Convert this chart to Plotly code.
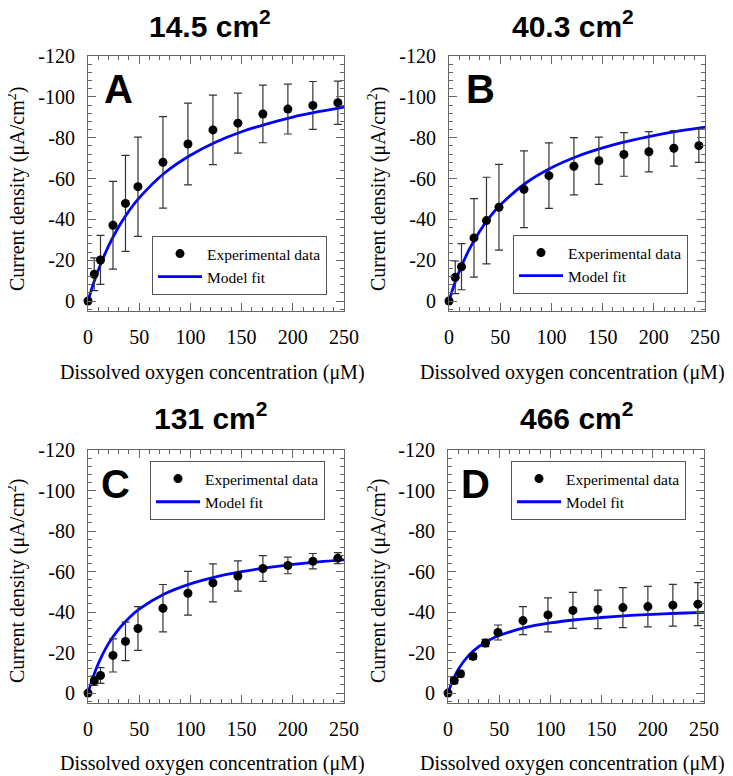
import plotly.graph_objects as go

# the page adds an 8px body margin, so reference pixel positions are
# shifted by OFF; the figure keeps the full size so bottom/right texts fit
W, H = 733, 776
OFF = 8

# Dissolved oxygen concentration (uM) of the measured points
conc = [0, 6.1, 12.2, 24.4, 36.6, 48.8, 73.2, 97.6, 122, 146.4, 170.8, 195.2, 219.6, 244]

# Experimental current density (uA/cm2) and error bar half-widths
exp_a = [0, -13.1, -20.1, -37.1, -47.8, -56.0, -67.9, -76.9, -83.8, -87.1, -91.6, -94.0, -95.8, -97.1]
err_a = [0, 8, 12, 21.5, 23.5, 24.3, 22.4, 20, 17, 14.7, 14.1, 12.2, 11.7, 10.6]
exp_b = [0, -11.6, -16.8, -30.9, -39.4, -45.9, -54.7, -61.4, -66.0, -68.7, -71.8, -73.1, -74.8, -76.1]
err_b = [0, 8, 11.3, 19.2, 21.2, 21, 18.8, 16, 14, 11.6, 10.7, 9.9, 8.7, 8.2]
exp_c = [0, -6.1, -8.7, -18.6, -25.5, -31.9, -41.9, -49.3, -54.4, -57.8, -61.5, -63.0, -65.1, -66.6]
err_c = [0, 2.3, 3.9, 8.2, 9.5, 10.8, 11.7, 10.8, 9.4, 7.5, 6.4, 4.1, 3.8, 2.7]
exp_d = [0, -6.2, -9.5, -18.1, -24.7, -29.9, -35.8, -38.6, -40.8, -41.3, -42.2, -42.7, -43.4, -43.9]
err_d = [0, 1.5, 1.5, 1.5, 1.8, 3.7, 6.9, 8.4, 8.9, 9.5, 9.9, 10, 10.3, 10.6]

# Model fit curves
fit_x = [0, 5, 10, 20, 30, 40, 50, 75, 100, 125, 150, 175, 200, 225, 250]
fit_a = [0, -8.1, -15.1, -26.9, -36.4, -44.1, -50.5, -62.8, -71.4, -77.9, -82.9, -86.8, -90.1, -92.7, -95.0]
fit_b = [0, -7.8, -14.5, -25.5, -34.2, -41.2, -47.0, -57.8, -65.3, -70.8, -75.0, -78.3, -81.0, -83.3, -85.2]
fit_c = [0, -8.0, -14.5, -24.4, -31.6, -37.1, -41.4, -49.0, -53.9, -57.4, -59.9, -61.9, -63.5, -64.8, -65.8]
fit_d = [0, -6.7, -11.7, -18.5, -22.9, -26.1, -28.4, -32.3, -34.6, -36.2, -37.3, -38.2, -38.9, -39.4, -39.8]

titles = ["14.5 cm<sup>2</sup>", "40.3 cm<sup>2</sup>", "131 cm<sup>2</sup>", "466 cm<sup>2</sup>"]
letters = ["A", "B", "C", "D"]
y_ticks = [0, -20, -40, -60, -80, -100, -120]
y_ticktext = ["0", "-20", "-40", "-60", "-80", "-100", "-120"]

exps = [exp_a, exp_b, exp_c, exp_d]
errs = [err_a, err_b, err_c, err_d]
fits = [fit_a, fit_b, fit_c, fit_d]

# reference pixel boxes of each panel: (left, right, top, bottom)
boxes = [(88, 344, 56, 311), (449, 705, 56, 311), (88, 344, 450, 703), (448, 704, 450, 703)]
legend_boxes = [(327, 295), (688, 294), (325, 520), (686, 520)]
title_pos = [(210, 24), (573, 24), (210, 416), (576, 416)]
letter_pos = [(118, 89), (480, 89), (115, 484), (476, 484)]
ytitle_pos = [(16, 189), (377, 189), (16, 581), (377, 581)]
xtitle_pos = [(212, 372), (572, 372), (212, 763), (572, 763)]


def px(x):
    return (x - OFF) / W


def py(y):
    return 1 - (y - OFF) / H


serif = "Liberation Serif"
sans = "Liberation Sans"

fig = go.Figure()

for i in range(4):
    n = "" if i == 0 else str(i + 1)
    xa, ya = "x" + n, "y" + n
    leg = "legend" + n

    fig.add_trace(go.Scatter(
        x=fit_x, y=fits[i], mode="lines", name="Model fit",
        line=dict(color="#0000FF", width=2.8, shape="spline"),
        xaxis=xa, yaxis=ya, legend=leg, legendrank=2,
    ))
    fig.add_trace(go.Scatter(
        x=conc, y=exps[i], mode="markers", name="Experimental data",
        marker=dict(color="black", size=9),
        error_y=dict(type="data", array=errs[i], color="#333333", thickness=1.2, width=4),
        xaxis=xa, yaxis=ya, legend=leg, legendrank=1, cliponaxis=False,
    ))

    l, r, t, b = boxes[i]
    axis_common = dict(
        showline=True, linecolor="#666666", linewidth=1, mirror="allticks",
        ticks="inside", ticklen=8, tickcolor="#666666", showgrid=False, zeroline=False,
        tickfont=dict(family=serif, size=20, color="black"), automargin=False,
    )
    fig.update_layout(**{
        "xaxis" + n: dict(
            domain=[px(l), px(r)], range=[0, 250], anchor=ya, dtick=50,
            minor=dict(dtick=10, ticks="inside", ticklen=4, tickcolor="#666666"),
            ticklabelstandoff=8, **axis_common),
        "yaxis" + n: dict(
            domain=[py(b), py(t)], range=[4.9, -120], anchor=xa,
            tickvals=y_ticks, ticktext=y_ticktext,
            minor=dict(dtick=4, ticks="inside", ticklen=4, tickcolor="#666666"),
            ticklabelstandoff=8, **axis_common),
        leg: dict(
            x=px(legend_boxes[i][0]), y=py(legend_boxes[i][1]),
            xanchor="right", yanchor="bottom",
            bgcolor="white", bordercolor="#555555", borderwidth=1,
            font=dict(family=serif, size=15.5, color="black"),
            traceorder="normal", tracegroupgap=0, itemwidth=44,
        ),
    })

    fig.add_annotation(x=px(title_pos[i][0]), y=py(title_pos[i][1]),
                       text="<b>" + titles[i] + "</b>",
                       font=dict(family=sans, size=30, color="black"))
    fig.add_annotation(x=px(letter_pos[i][0]), y=py(letter_pos[i][1]),
                       text="<b>" + letters[i] + "</b>",
                       font=dict(family=sans, size=40, color="black"))
    fig.add_annotation(x=px(ytitle_pos[i][0]), y=py(ytitle_pos[i][1]),
                       text="Current density (μA/cm<sup>2</sup>)", textangle=-90,
                       font=dict(family=serif, size=20, color="black"))
    fig.add_annotation(x=px(xtitle_pos[i][0]), y=py(xtitle_pos[i][1]),
                       text="Dissolved oxygen concentration (μM)",
                       font=dict(family=serif, size=20, color="black"))

fig.update_annotations(xref="paper", yref="paper", showarrow=False,
                       xanchor="center", yanchor="middle")

fig.update_layout(
    width=W, height=H,
    margin=dict(l=0, r=0, t=0, b=0, autoexpand=False),
    paper_bgcolor="white", plot_bgcolor="white",
)

fig.write_html("out.html")
